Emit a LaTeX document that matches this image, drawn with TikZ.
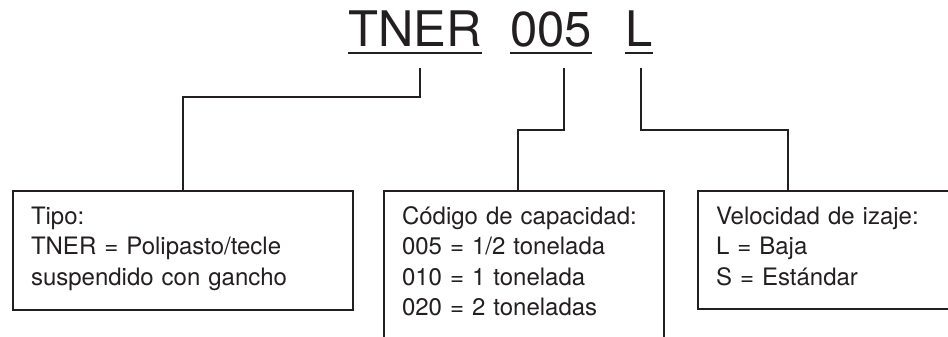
\documentclass[tikz,border=0pt]{standalone}
\usepackage{fontspec}
\setmainfont{TeX Gyre Heros}
\usepackage{tikz}
\usetikzlibrary{calc}
\definecolor{ink}{HTML}{231F20}

\begin{document}
\begin{tikzpicture}[x=1pt, y=-1pt]
        \tikzset{code/.style = {anchor=base west, inner sep=0, text=ink, font=\fontsize{49}{50}\selectfont}}
        \tikzset{infobox/.style = {draw=ink, line width=2pt, anchor=north west, inner xsep=18pt, inner ysep=0pt, text height=33pt, align=left, text=ink, font=\fontsize{24}{30.5}\selectfont}}
        \tikzset{link/.style = {draw=ink, line width=2pt}}
        \useasboundingbox (0,0) rectangle (948,337);
        \clip (0,0) rectangle (948,337);

        \node[code] (tner) at (348, 47) {TNER};
        \node[code] (cap) at (510, 47) {005};
        \node[code] (vel) at (625, 47) {L};
        \foreach \w in {tner, cap, vel}
          \draw[link] ([yshift=-6pt]\w.base west) -- ([yshift=-6pt]\w.base east);

        \node[infobox, text width=304pt, text depth=86pt] (tipo) at (12, 190) {Tipo:\\TNER = Polipasto/tecle\\suspendido con gancho};
        \node[infobox, text width=244pt, text depth=150pt] (capbox) at (383, 190) {Código de capacidad:\\005 = 1/2 tonelada\\010 = 1 tonelada\\020 = 2 toneladas};
        \node[infobox, text width=240pt, text depth=85pt] (velbox) at (697, 190) {Velocidad de izaje:\\L = Baja\\S = Estándar};

        \coordinate (t1) at (420, 68);
        \coordinate (t2) at (564, 68);
        \coordinate (t3) at (641, 68);

        \draw[link] (t1) -- ++(0,29) -| (tipo.north);
        \draw[link] (t2) -- ++(0,62) -| ([xshift=-6pt]capbox.north);
        \draw[link] (t3) -- ++(0,62) -| ([xshift=91pt]velbox.north west);
      \end{tikzpicture}
\end{document}
